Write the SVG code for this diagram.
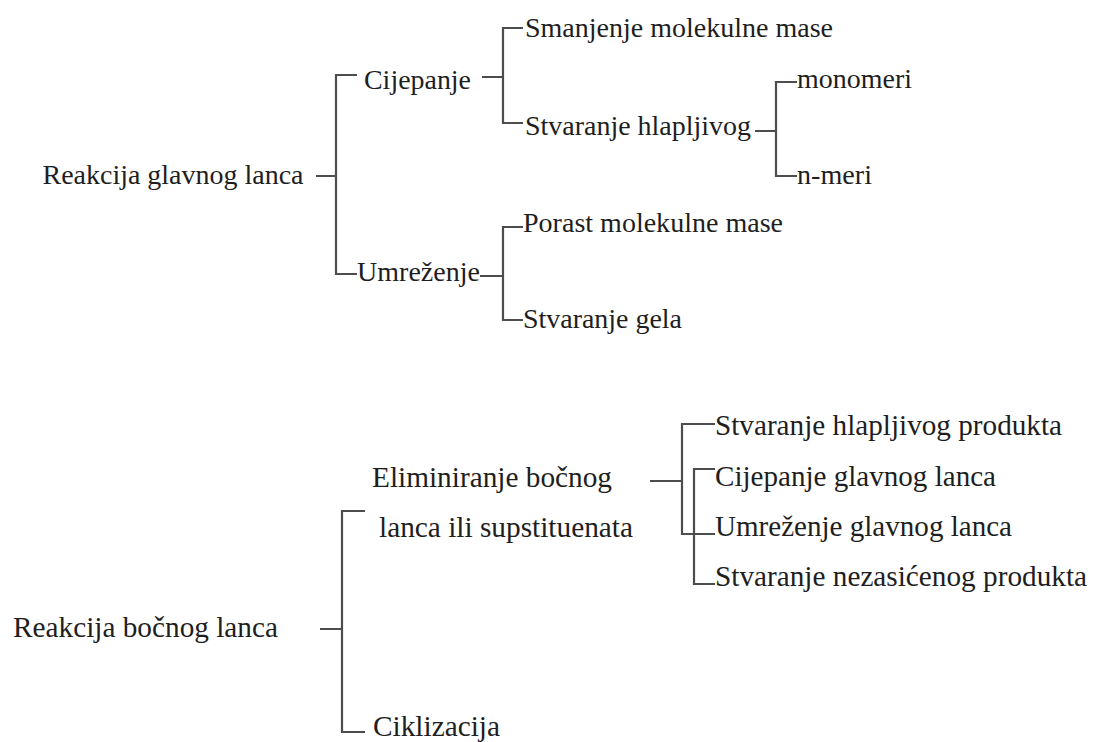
<svg xmlns="http://www.w3.org/2000/svg" width="1093" height="742" viewBox="0 0 1093 742" font-family="Liberation Serif, DejaVu Serif, serif">
<style>
text{font-family:'Liberation Serif','DejaVu Serif',serif}
.t{font-size:28px;fill:#1e1e1e}
.b{font-size:29.3px}
.c{fill:none;stroke:#4d4d4d;stroke-width:2.2}
</style>
<rect width="1093" height="742" fill="#fff"/>
<g id="connectors" class="c">
<path d="M316 176H336M357 75H336V274H357"/>
<path d="M482 77H503M523 28H503V123H523"/>
<path d="M755 131H776M797 82H776V176H797"/>
<path d="M480 276H503M523 227H503V320H523"/>
<path d="M320 629H342M365 511H342V732H365"/>
<path d="M650 481H682M715 424H682V534H715"/>
<path d="M715 469H694V584H715"/>
</g>
<g id="n_glavni"><text class="t" x="42.5" y="184" textLength="261" lengthAdjust="spacingAndGlyphs">Reakcija glavnog lanca</text></g>
<g id="n_cijepanje"><text class="t" x="364" y="89" textLength="107" lengthAdjust="spacingAndGlyphs">Cijepanje</text></g>
<g id="n_smanjenje"><text class="t" x="525" y="37" textLength="308" lengthAdjust="spacingAndGlyphs">Smanjenje molekulne mase</text></g>
<g id="n_hlapljivog"><text class="t" x="525" y="135" textLength="226" lengthAdjust="spacingAndGlyphs">Stvaranje hlapljivog</text></g>
<g id="n_monomeri"><text class="t" x="797" y="88" textLength="115" lengthAdjust="spacingAndGlyphs">monomeri</text></g>
<g id="n_nmeri"><text class="t" x="797" y="184" textLength="75" lengthAdjust="spacingAndGlyphs">n-meri</text></g>
<g id="n_umrezenje"><text class="t" x="357" y="281" textLength="123" lengthAdjust="spacingAndGlyphs">Umreženje</text></g>
<g id="n_porast"><text class="t" x="523" y="232" textLength="260" lengthAdjust="spacingAndGlyphs">Porast molekulne mase</text></g>
<g id="n_gela"><text class="t" x="523" y="328" textLength="159" lengthAdjust="spacingAndGlyphs">Stvaranje gela</text></g>
<g id="n_bocni"><text class="t b" x="13" y="637" textLength="265" lengthAdjust="spacingAndGlyphs">Reakcija bočnog lanca</text></g>
<g id="n_eliminiranje"><text class="t b" x="372" y="487" textLength="240" lengthAdjust="spacingAndGlyphs">Eliminiranje bočnog</text><text class="t b" x="379" y="537" textLength="254" lengthAdjust="spacingAndGlyphs">lanca ili supstituenata</text></g>
<g id="n_ciklizacija"><text class="t b" x="373" y="736" textLength="127" lengthAdjust="spacingAndGlyphs">Ciklizacija</text></g>
<g id="n_hlap_prod"><text class="t b" x="715" y="435" textLength="347" lengthAdjust="spacingAndGlyphs">Stvaranje hlapljivog produkta</text></g>
<g id="n_cij_gl"><text class="t b" x="715" y="486" textLength="281" lengthAdjust="spacingAndGlyphs">Cijepanje glavnog lanca</text></g>
<g id="n_umr_gl"><text class="t b" x="715" y="536" textLength="297" lengthAdjust="spacingAndGlyphs">Umreženje glavnog lanca</text></g>
<g id="n_nezas"><text class="t b" x="715" y="586" textLength="372" lengthAdjust="spacingAndGlyphs">Stvaranje nezasićenog produkta</text></g>
</svg>
